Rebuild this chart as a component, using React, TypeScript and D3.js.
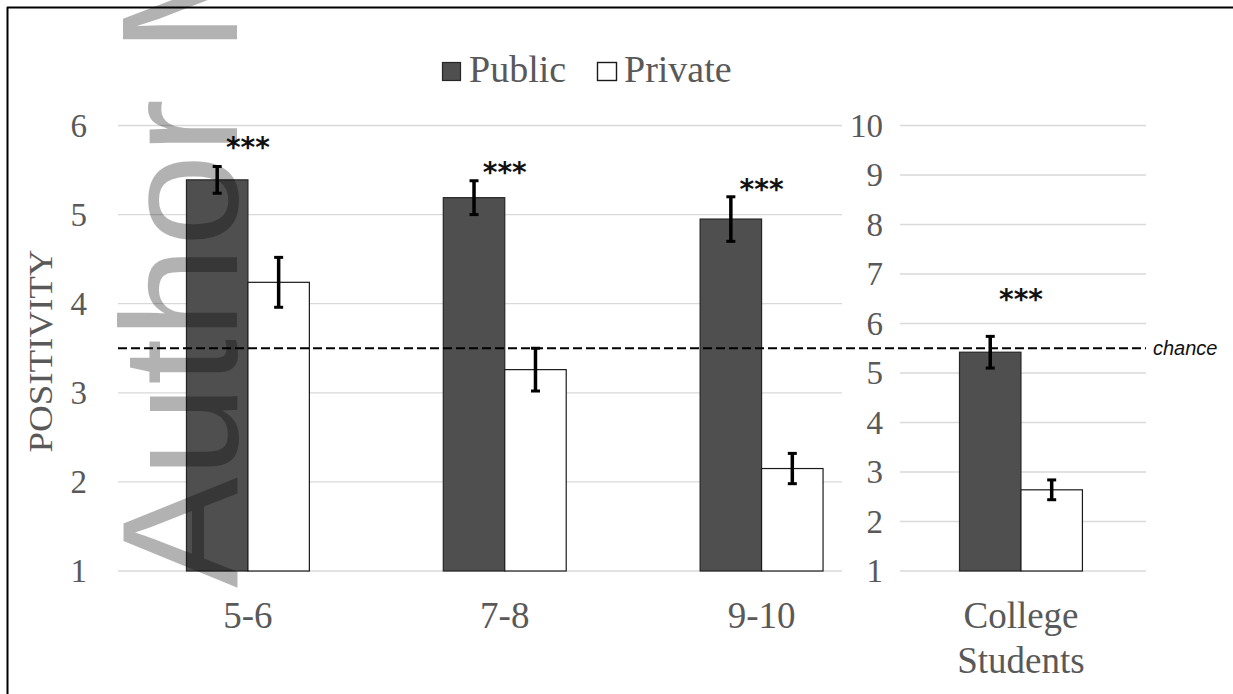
import React from 'react';
import * as d3 from 'd3';

// children (left axis, 1-6)
const ageGroups = ['5-6', '7-8', '9-10'];
const publicMeans = [5.39, 5.19, 4.95];
const publicErr = [0.15, 0.19, 0.25];
const privateMeans = [4.24, 3.26, 2.15];
const privateErr = [0.28, 0.24, 0.17];
const childSig = [5.84, 5.56, 5.37];
const childTicks = [1, 2, 3, 4, 5, 6];
const childChance = 3.5;

// college students (right axis, 1-10)
const collegeGroups = ['College Students'];
const collegePublic = [5.42];
const collegePublicErr = [0.32];
const collegePrivate = [2.64];
const collegePrivateErr = [0.2];
const collegeSig = [6.64];
const collegeTicks = [1, 2, 3, 4, 5, 6, 7, 8, 9, 10];
const collegeChance = 5.5;

const seriesNames = ['Public', 'Private'];
const sigLabel = '***';

const W = 1233;
const H = 694;
const TEXT = '#595959';
const GRID = '#d9d9d9';
const DARK = '#4f4f4f';
const SERIF = '"Liberation Serif", "Times New Roman", serif';

const PAD = 1 - 123 / 257;

const yChild = d3.scaleLinear().domain([1, 6]).range([571, 125.5]);
const yCollege = d3.scaleLinear().domain([1, 10]).range([571, 125.5]);

const xChild = d3.scaleBand().domain(ageGroups).range([119.5, 890]).paddingInner(PAD).paddingOuter(PAD / 2);
const xCollege = d3.scaleBand().domain(collegeGroups).range([892.5, 1149.5]).paddingInner(PAD).paddingOuter(PAD / 2);
const xSeries = d3.scaleBand().domain(seriesNames).range([0, xChild.bandwidth()]);

type PanelProps = {
  groups: string[];
  pub: number[];
  pubErr: number[];
  priv: number[];
  privErr: number[];
  sig: number[];
  x: d3.ScaleBand<string>;
  y: d3.ScaleLinear<number, number>;
};

const Bars: React.FC<PanelProps> = ({ groups, pub, pubErr, priv, privErr, sig, x, y }) => (
  <g>
    {groups.map((g, i) => {
      const x0 = x(g) as number;
      const rows = [
        { name: 'Public', v: pub[i], e: pubErr[i], fill: DARK, stroke: '#262626' },
        { name: 'Private', v: priv[i], e: privErr[i], fill: '#ffffff', stroke: '#1a1a1a' },
      ];
      return (
        <g key={g}>
          {rows.map(r => {
            const bx = x0 + (xSeries(r.name) as number);
            const cx = bx + xSeries.bandwidth() / 2;
            return (
              <g key={r.name}>
                <rect x={bx} y={y(r.v)} width={xSeries.bandwidth()} height={y(y.domain()[0]) - y(r.v)}
                  fill={r.fill} stroke={r.stroke} strokeWidth={1.2} />
                <line x1={cx} x2={cx} y1={y(r.v + r.e)} y2={y(r.v - r.e)} stroke="#000" strokeWidth={3.5} />
                <line x1={cx - 4.5} x2={cx + 4.5} y1={y(r.v + r.e)} y2={y(r.v + r.e)} stroke="#000" strokeWidth={3} />
                <line x1={cx - 4.5} x2={cx + 4.5} y1={y(r.v - r.e)} y2={y(r.v - r.e)} stroke="#000" strokeWidth={3} />
              </g>
            );
          })}
          <text x={x0 + x.bandwidth() / 2} y={y(sig[i])} dy="0.62em" textAnchor="middle"
            fontFamily='"DejaVu Sans", sans-serif' fontWeight="bold" fontSize={28} fill="#111">
            {sigLabel}
          </text>
        </g>
      );
    })}
  </g>
);

const App: React.FC = () => {
  const childGrid: [number, number] = [118, 842];
  const collegeGrid: [number, number] = [900, 1146];

  return (
    <div style={{ position: 'absolute', left: 0, top: 0, width: W, height: H, background: '#fff' }}>
      <svg width={W} height={H} style={{ display: 'block' }}>
        <rect x={0} y={0} width={W} height={H} fill="#fff" />
        {/* frame */}
        <line x1={7} x2={W + 5} y1={7.5} y2={7.5} stroke="#000" strokeWidth={2} />
        <line x1={7.5} x2={7.5} y1={7} y2={H + 5} stroke="#000" strokeWidth={2} />

        {/* gridlines */}
        {childTicks.map(t => (
          <line key={'cg' + t} x1={childGrid[0]} x2={childGrid[1]} y1={yChild(t)} y2={yChild(t)} stroke={GRID} strokeWidth={1.3} />
        ))}
        {collegeTicks.map(t => (
          <line key={'rg' + t} x1={collegeGrid[0]} x2={collegeGrid[1]} y1={yCollege(t)} y2={yCollege(t)} stroke={GRID} strokeWidth={1.3} />
        ))}

        {/* tick labels */}
        {childTicks.map(t => (
          <text key={'ct' + t} x={87} y={yChild(t)} dy="0.34em" textAnchor="end" fontFamily={SERIF} fontSize={33} fill={TEXT}>
            {t}
          </text>
        ))}
        {collegeTicks.map(t => (
          <text key={'rt' + t} x={883} y={yCollege(t)} dy="0.34em" textAnchor="end" fontFamily={SERIF} fontSize={33} fill={TEXT}>
            {t}
          </text>
        ))}

        <text transform={`translate(52,351) rotate(-90)`} textAnchor="middle" fontFamily={SERIF} fontSize={34}
          textLength={203} lengthAdjust="spacingAndGlyphs" fill={TEXT}>
          POSITIVITY
        </text>

        <Bars groups={ageGroups} pub={publicMeans} pubErr={publicErr} priv={privateMeans} privErr={privateErr}
          sig={childSig} x={xChild} y={yChild} />
        <Bars groups={collegeGroups} pub={collegePublic} pubErr={collegePublicErr} priv={collegePrivate}
          privErr={collegePrivateErr} sig={collegeSig} x={xCollege} y={yCollege} />

        {/* chance line */}
        <line x1={childGrid[0]} x2={collegeGrid[1]} y1={yChild(childChance)} y2={yCollege(collegeChance)}
          stroke="#000" strokeWidth={2.2} strokeDasharray="9,4" />
        <text x={1153} y={yCollege(collegeChance)} dy="0.35em" fontFamily='"Liberation Sans", Arial, sans-serif'
          fontStyle="italic" fontSize={20} fill="#111">
          chance
        </text>

        {/* category labels */}
        {ageGroups.map(g => (
          <text key={g} x={(xChild(g) as number) + xChild.bandwidth() / 2} y={628} textAnchor="middle"
            fontFamily={SERIF} fontSize={37} fill={TEXT}>
            {g}
          </text>
        ))}
        {collegeGroups.map(g => (
          <text key={g} x={(xCollege(g) as number) + xCollege.bandwidth() / 2} y={628} textAnchor="middle"
            fontFamily={SERIF} fontSize={37} fill={TEXT}>
            {g.split(' ').map((w, i) => (
              <tspan key={w} x={(xCollege(g) as number) + xCollege.bandwidth() / 2} dy={i === 0 ? 0 : 45}>{w}</tspan>
            ))}
          </text>
        ))}

        {/* legend */}
        <rect x={442.5} y={62.5} width={18} height={18} fill={DARK} stroke="#262626" strokeWidth={1.2} />
        <text x={469} y={82} fontFamily={SERIF} fontSize={38} fill={TEXT}>{seriesNames[0]}</text>
        <rect x={597.5} y={62.5} width={19} height={18} fill="#fff" stroke="#1a1a1a" strokeWidth={1.4} />
        <text x={624} y={82} fontFamily={SERIF} fontSize={38} fill={TEXT}>{seriesNames[1]}</text>

        {/* watermark */}
        <text transform="translate(237,588) rotate(-90)" fontFamily='"Liberation Sans", Arial, sans-serif'
          fontSize={166} fill="#000" fillOpacity={0.3}>
          Author Manuscript
        </text>
      </svg>
    </div>
  );
};

export default App;
